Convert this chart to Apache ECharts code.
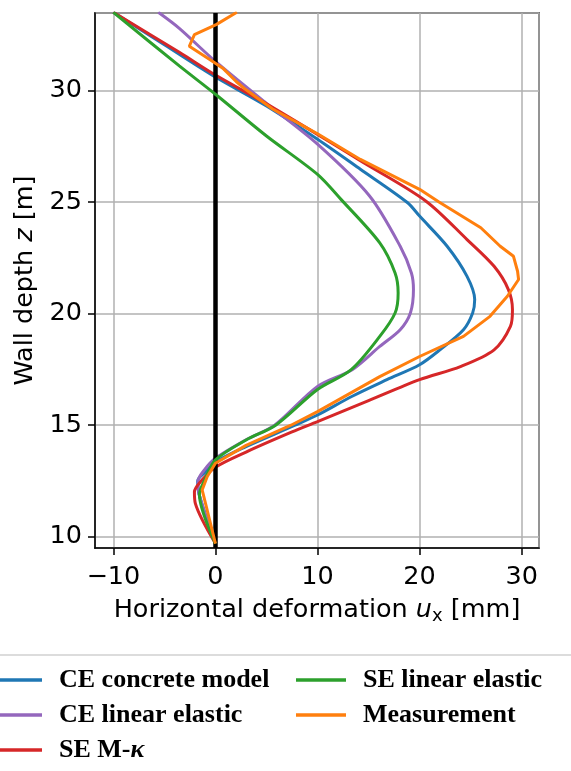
<!DOCTYPE html>
<html lang="en">
<head>
    <meta charset="UTF-8">
    <title>Wall deformation</title>
    <script src="https://cdn.jsdelivr.net/npm/echarts@6/dist/echarts.min.js"></script>
    <style>
        html, body { margin: 0; padding: 0; background: #fff; }
    </style>
</head>
<body>
    <div id="main" style="width:571px;height:771px;"></div>

<script>

// horizontal deformation [mm] (x) and wall depth [m] (z), read from bottom to top
var ceConcreteX = [0, -1.6, -1.74, -1.0, 0, 2.8, 7.8, 10, 13.4, 16.8, 20, 22.0, 24.3, 25.2, 25.4, 24.65, 22.7, 20, 18.8, 14.2, 10, 5, 0, -5, -10.0];
var ceConcreteZ = [9.7, 11.9, 12.5, 12.9, 13.35, 14.0, 15.0, 15.46, 16.3, 17.04, 17.71, 18.38, 19.28, 20.03, 20.63, 21.67, 23.02, 24.37, 24.98, 26.47, 27.81, 29.3, 30.6, 32.05, 33.5];

var ceLinearX = [0, -1.6, -1.7, -1.08, 0, 3.0, 5.8, 10, 13.4, 16.1, 18.1, 19.1, 19.4, 19.2, 18.1, 15.1, 10, 5.0, 0, -3.54, -5.6];
var ceLinearZ = [9.7, 11.9, 12.5, 13.0, 13.52, 14.35, 15.0, 16.74, 17.49, 18.53, 19.28, 20.03, 21.08, 21.82, 23.02, 25.27, 27.59, 29.42, 31.3, 32.78, 33.5];

var seMkX = [0, -1.97, -2.06, -1.4, 0, 3.0, 7.5, 10, 15, 20, 24.0, 27.3, 28.9, 29.1, 28.7, 27.3, 24.65, 20.6, 14.2, 10, 5, 0, -3.54, -10.0];
var seMkZ = [9.7, 11.5, 12.02, 12.5, 13.12, 13.8, 14.7, 15.16, 16.1, 17.04, 17.63, 18.38, 19.43, 20.18, 21.08, 22.12, 23.32, 25.05, 26.85, 28.03, 29.4, 30.69, 31.71, 33.5];

var seLinearX = [0, -1.57, -1.0, 0, 3.0, 5.9, 10, 13.3, 16.1, 17.6, 17.9, 17.6, 16.1, 12.3, 10, 5, 0, -3.54, -10.0];
var seLinearZ = [9.7, 11.9, 12.6, 13.45, 14.34, 15.0, 16.6, 17.49, 18.98, 20.03, 20.93, 21.82, 23.17, 25.12, 26.24, 27.96, 29.83, 31.1, 33.5];

var measX = [0, -1.3, -0.8, 0, 3.0, 7.4, 10, 16.1, 20, 24.3, 26.9, 28.6, 29.7, 29.6, 29.2, 27.9, 26.0, 21.9, 20, 14.2, 10, 5.6, 3.0, 2.03, 0.72, -0.26, -2.56, -2.06, 0.07, 2.1];
var measZ = [9.7, 12.1, 12.7, 13.3, 14.1, 15.0, 15.61, 17.18, 18.08, 18.98, 19.88, 20.78, 21.53, 21.9, 22.57, 23.02, 23.85, 25.0, 25.57, 26.91, 28.06, 29.17, 30.03, 30.4, 31.0, 31.3, 31.98, 32.5, 32.95, 33.5];

var seriesNames = ['CE concrete model', 'CE linear elastic', 'SE M-κ', 'SE linear elastic', 'Measurement'];
var seriesColors = ['#1f77b4', '#9467bd', '#d62728', '#2ca02c', '#ff7f0e'];

function pairs(xs, zs) {
    return xs.map(function (x, i) { return [x, zs[i]]; });
}

var curves = [
    pairs(ceConcreteX, ceConcreteZ),
    pairs(ceLinearX, ceLinearZ),
    pairs(seMkX, seMkZ),
    pairs(seLinearX, seLinearZ),
    pairs(measX, measZ)
];

var myChart = echarts.init(document.getElementById('main'), null, { renderer: 'canvas' });

var tickFont = { fontFamily: 'DejaVu Sans', fontSize: 25.5, color: '#000' };
var legendText = {
    fontFamily: 'Liberation Serif', fontWeight: 'bold', fontSize: 26, color: '#000',
    padding: [0, 0, 0, 12],
    rich: {
        k: { fontFamily: 'Liberation Serif', fontStyle: 'italic', fontWeight: 'bold', fontSize: 26, color: '#000' }
    }
};

var series = curves.map(function (d, i) {
    return {
        name: seriesNames[i],
        type: 'line',
        data: d,
        showSymbol: false,
        // model curves are smooth, the measurement is piecewise
        smooth: i < 4 ? 0.3 : false,
        clip: true,
        lineStyle: { width: 3, color: seriesColors[i] },
        itemStyle: { color: seriesColors[i] },
        z: 2 + i
    };
});

// black line at u = 0, drawn on top
series.push({
    type: 'line',
    data: [],
    z: 10,
    markLine: {
        silent: true,
        symbol: 'none',
        label: { show: false },
        lineStyle: { color: '#000', width: 4.5, type: 'solid' },
        data: [{ xAxis: 0 }]
    }
});

myChart.setOption({
    animation: false,
    grid: {
        left: 95, right: 32, top: 13, bottom: 223,
        show: true, borderColor: '#000', borderWidth: 1.5
    },
    xAxis: {
        type: 'value',
        min: -11.8, max: 31.7,
        splitNumber: 4,
        axisLine: { show: true, onZero: false, lineStyle: { color: '#000', width: 1.5 } },
        axisTick: { show: true, length: 7, lineStyle: { color: '#000', width: 1.5 } },
        axisLabel: Object.assign({ margin: 16, showMinLabel: false, showMaxLabel: false,
            formatter: function (v) { return v < 0 ? '\u2212' + Math.abs(v) : String(v); } }, tickFont),
        splitLine: { show: true, lineStyle: { color: '#b0b0b0', width: 1.5 } },
        name: 'Horizontal deformation {i|u}{sub|x} [mm]',
        nameLocation: 'middle',
        nameGap: 48,
        nameTextStyle: {
            fontFamily: 'DejaVu Sans', fontSize: 25.5, color: '#000',
            rich: {
                i: { fontFamily: 'DejaVu Sans', fontStyle: 'italic', fontSize: 25.5, color: '#000' },
                sub: { fontFamily: 'DejaVu Sans', fontSize: 18, color: '#000', padding: [11, 0, 0, 0] }
            }
        }
    },
    yAxis: {
        type: 'value',
        min: 9.5, max: 33.47,
        splitNumber: 5,
        axisLine: { show: true, onZero: false, lineStyle: { color: '#000', width: 1.5 } },
        axisTick: { show: true, length: 7, lineStyle: { color: '#000', width: 1.5 } },
        axisLabel: Object.assign({ margin: 13, showMinLabel: false, showMaxLabel: false }, tickFont),
        splitLine: { show: true, lineStyle: { color: '#b0b0b0', width: 1.5 } },
        name: 'Wall depth {i|z} [m]',
        nameLocation: 'middle',
        nameGap: 55,
        nameTextStyle: {
            fontFamily: 'DejaVu Sans', fontSize: 25.5, color: '#000',
            rich: {
                i: { fontFamily: 'DejaVu Sans', fontStyle: 'italic', fontSize: 25.5, color: '#000' }
            }
        }
    },
    legend: [{
        data: seriesNames.slice(0, 3),
        orient: 'vertical',
        left: -13, top: 662,
        icon: 'rect', itemWidth: 50, itemHeight: 3.5, itemGap: 9,
        textStyle: legendText,
        formatter: function (n) { return n === 'SE M-κ' ? 'SE M-{k|κ}' : n; }
    }, {
        data: seriesNames.slice(3),
        orient: 'vertical',
        left: 291, top: 662,
        icon: 'rect', itemWidth: 50, itemHeight: 3.5, itemGap: 9,
        textStyle: legendText
    }],
    graphic: [{
        type: 'line',
        shape: { x1: 0, y1: 655, x2: 571, y2: 655 },
        style: { stroke: '#dcdcdc', lineWidth: 2 },
        silent: true
    }],
    series: series
});

</script>
</body>
</html>
